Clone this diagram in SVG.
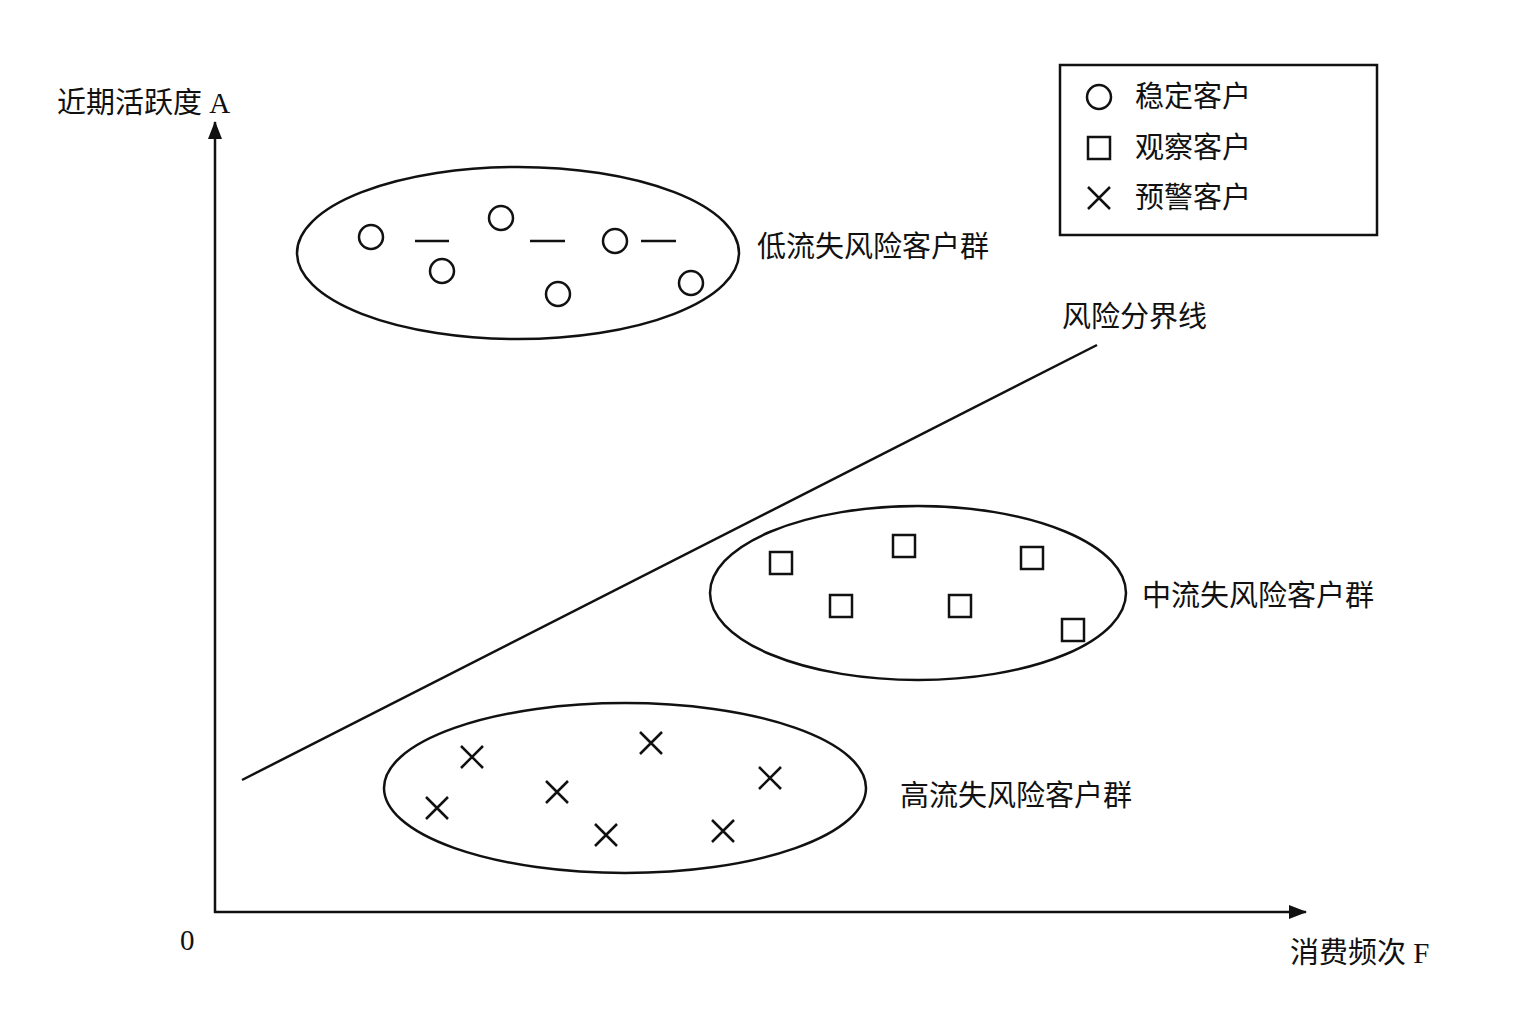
<svg xmlns="http://www.w3.org/2000/svg" width="1536" height="1024" viewBox="0 0 1536 1024">
<style>
text{font-family:"Liberation Serif","Noto Sans CJK SC",serif;font-size:29px;fill:#111;dominant-baseline:middle}
.s{fill:none;stroke:#111;stroke-width:2.5}
</style>
<defs>
<marker id="ah" markerWidth="18" markerHeight="14" refX="17" refY="7" orient="auto" markerUnits="userSpaceOnUse" viewBox="0 0 18 14"><path d="M0,0 L18,7 L0,14 z" fill="#111"/></marker>
<circle id="c" r="12" class="s"/>
<rect id="q" x="-11" y="-11" width="22" height="22" class="s"/>
<path id="x" d="M-11,-11 L11,11 M11,-11 L-11,11" class="s"/>
</defs>
<rect width="1536" height="1024" fill="#fff"/>
<g id="connectors">
<line x1="215" y1="913" x2="215" y2="122" class="s" stroke-width="3" marker-end="url(#ah)"/>
<line x1="214" y1="912" x2="1306" y2="912" class="s" stroke-width="3" marker-end="url(#ah)"/>
<line x1="242" y1="780" x2="1097" y2="345" class="s"/>
</g>
<text x="57" y="106">近期活跃度 A</text>
<text x="180" y="943">0</text>
<text x="1290" y="956">消费频次 F</text>
<text x="1062" y="320">风险分界线</text>
<g id="low">
<ellipse cx="518" cy="253" rx="221" ry="86" class="s"/>
<use href="#c" x="371" y="237"/><use href="#c" x="442" y="271"/><use href="#c" x="501" y="218"/>
<use href="#c" x="558" y="294"/><use href="#c" x="615" y="241"/><use href="#c" x="691" y="283"/>
<path d="M415,241H449M530,241H565M641,241H676" class="s"/>
<text x="757" y="250">低流失风险客户群</text>
</g>
<g id="mid">
<ellipse cx="918" cy="593" rx="208" ry="87" class="s"/>
<use href="#q" x="781" y="563"/><use href="#q" x="841" y="606"/><use href="#q" x="904" y="546"/>
<use href="#q" x="960" y="606"/><use href="#q" x="1032" y="558"/><use href="#q" x="1073" y="630"/>
<text x="1142" y="599">中流失风险客户群</text>
</g>
<g id="high">
<ellipse cx="625" cy="788" rx="241" ry="85" class="s"/>
<use href="#x" x="472" y="757"/><use href="#x" x="437" y="808"/><use href="#x" x="557" y="792"/>
<use href="#x" x="606" y="835"/><use href="#x" x="651" y="743"/><use href="#x" x="723" y="831"/><use href="#x" x="770" y="778"/>
<text x="900" y="799">高流失风险客户群</text>
</g>
<g id="legend">
<rect x="1060" y="65" width="317" height="170" class="s"/>
<use href="#c" x="1099" y="97"/><use href="#q" x="1099" y="148"/><use href="#x" x="1099" y="198"/>
<text x="1135" y="100">稳定客户</text>
<text x="1135" y="151">观察客户</text>
<text x="1135" y="201">预警客户</text>
</g>
</svg>
